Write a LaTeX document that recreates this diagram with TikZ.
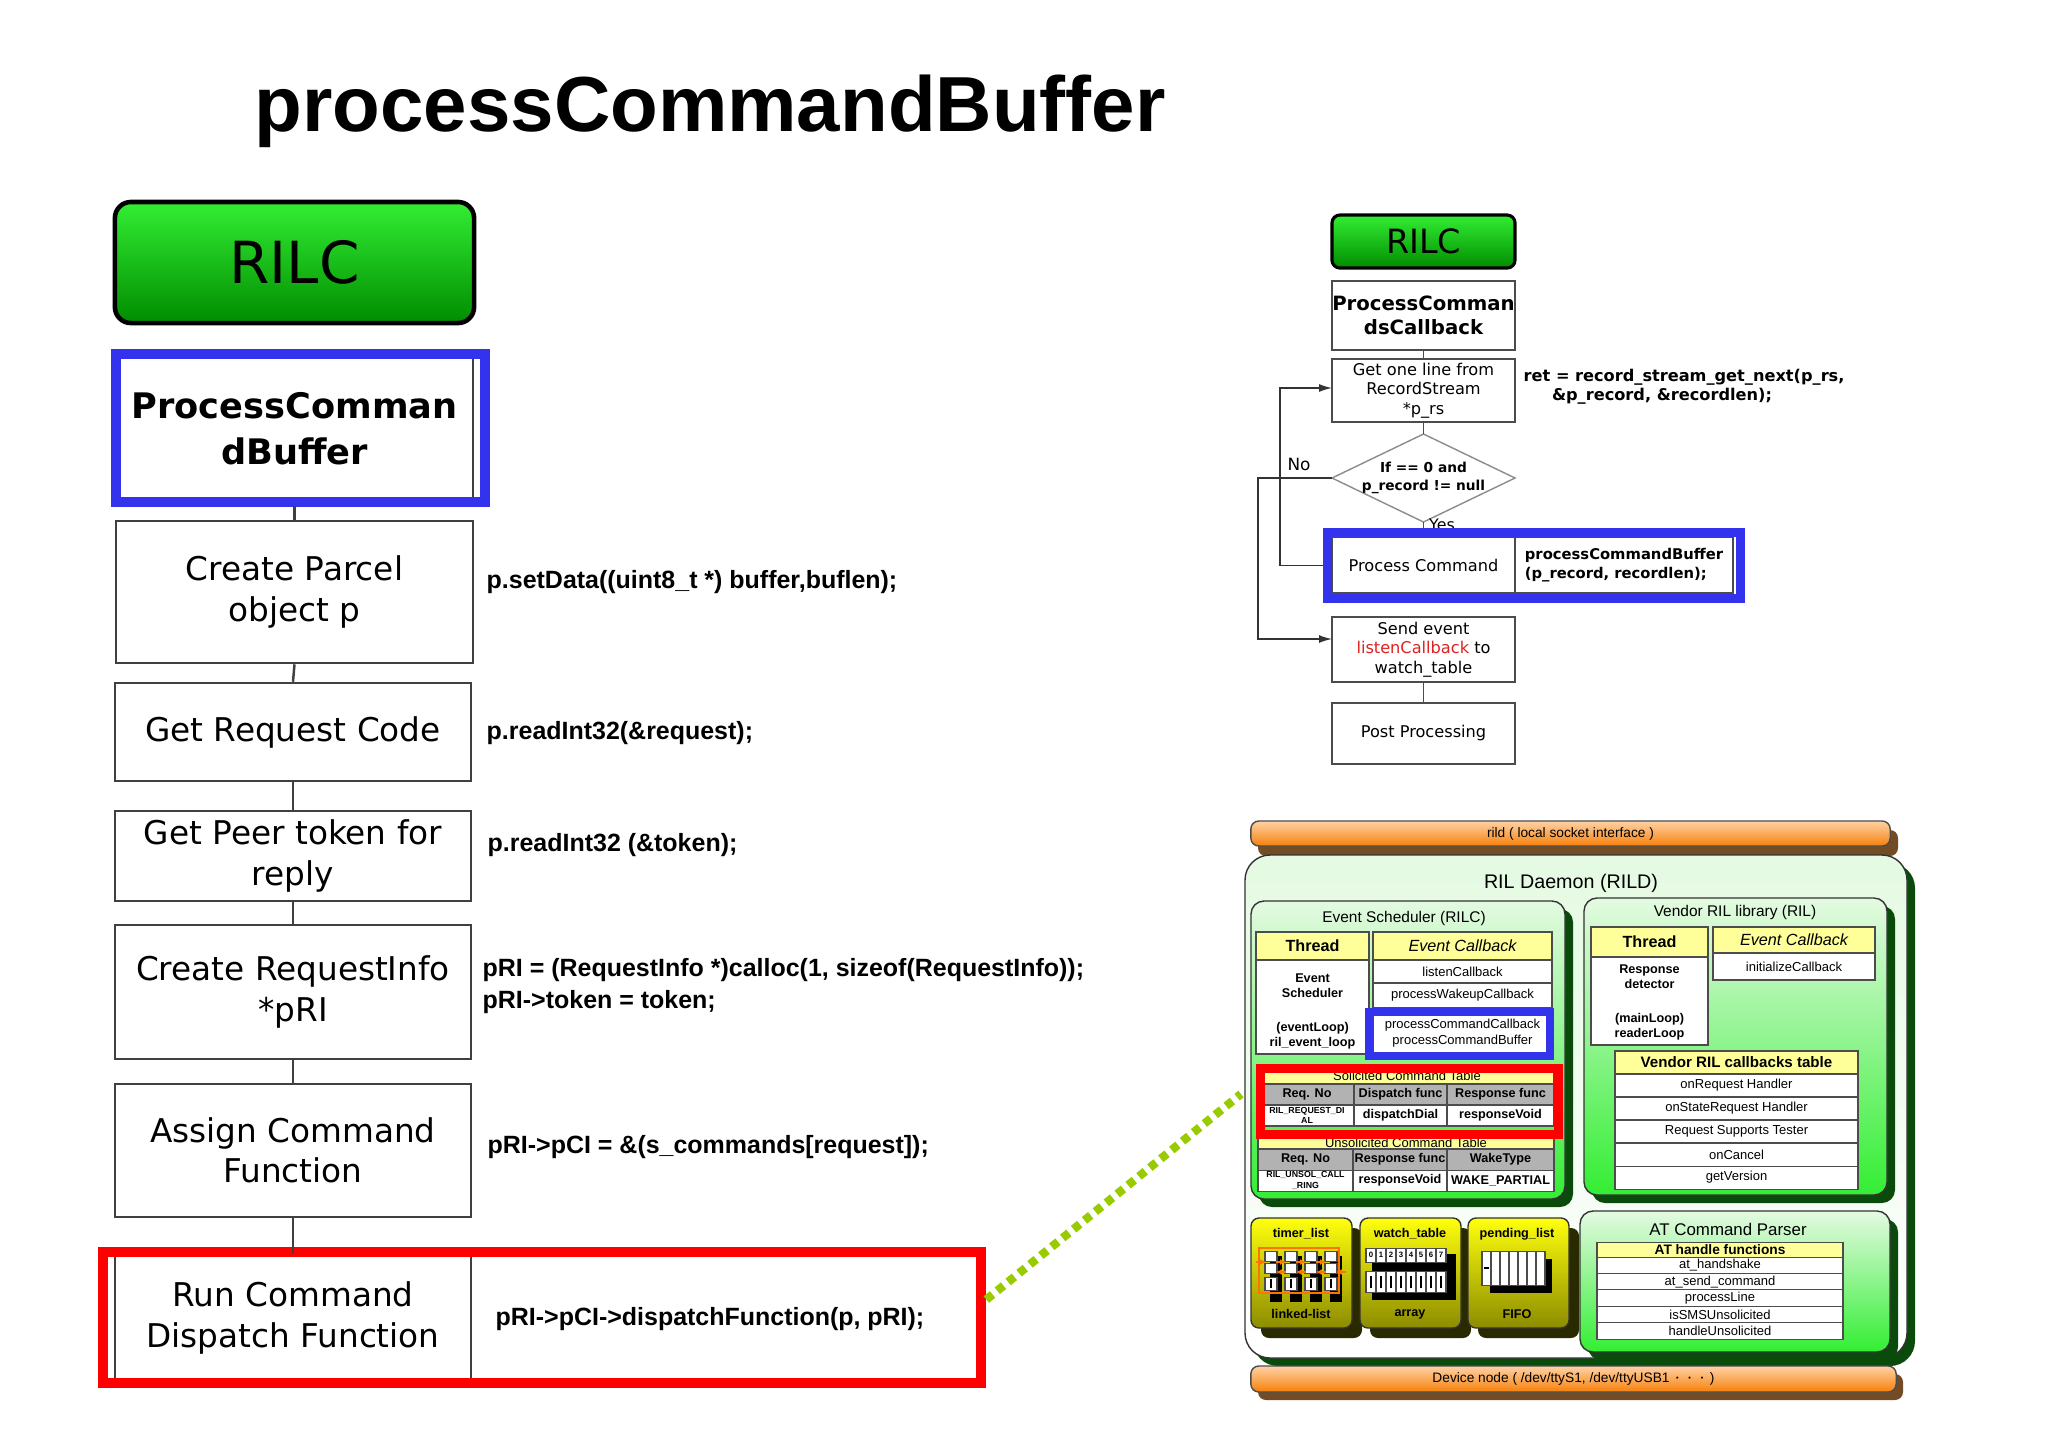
\documentclass[tikz,border=0pt]{standalone}
\usepackage{fontspec}
\setmainfont{DejaVu Sans}
\newfontfamily\lib{Liberation Sans}
\usetikzlibrary{shapes.geometric,arrows.meta}
\newcommand\fz[2]{\fontsize{#1}{#2}\selectfont}
\definecolor{bgreen}{HTML}{33EE33}
\definecolor{dgreen}{HTML}{0A4A0A}
\definecolor{lgreen}{HTML}{E4FAE2}
\definecolor{ylw}{HTML}{FFFF99}
\definecolor{olv}{HTML}{8C8C00}
\definecolor{dolv}{HTML}{2A2A00}
\definecolor{ygreen}{HTML}{99CC00}
\definecolor{bblue}{HTML}{3333EE}
\definecolor{lred}{HTML}{DD2222}
\begin{document}
\begin{tikzpicture}[x=0.01cm,y=-0.01cm,
  lbox/.style={draw=black!75,line width=0.7pt,fill=white,align=center,font=\fz{9.3pt}{11.5pt},inner sep=0pt},
  code/.style={anchor=west,font=\lib\bfseries\fz{7.1pt}{8.9pt},align=left,inner sep=0pt},
  fbox/.style={draw=black!70,line width=0.4pt,fill=white,align=center,font=\fz{4.6pt}{5.5pt},inner sep=0pt},
  tb/.style={font=\lib\fz{3.7pt}{4.4pt},align=center,inner sep=0pt},
  tbb/.style={font=\lib\bfseries\fz{3.6pt}{4.3pt},align=center,inner sep=0pt},
  cell/.style={draw=black!70,line width=0.3pt},
  rbox/.style={draw=black!80,line width=0.4pt,rounded corners=0.13cm,top color=lgreen,bottom color=bgreen},
  shd/.style={fill=dgreen,rounded corners=0.13cm},
  ybox/.style={draw=black!80,line width=0.4pt,rounded corners=0.08cm,top color=yellow!95!white,bottom color=olv},
]
\useasboundingbox (0,0) rectangle (2048,1447);
\fill[white] (0,0) rectangle (2048,1447);

% title
\node[anchor=base west,inner sep=0pt,font=\lib\bfseries\fz{22.2pt}{23pt}] (title) at (254,131) {processCommandBuffer};

% ---------- left column ----------
\node[draw=black,line width=1.3pt,rounded corners=0.16cm,top color=bgreen,bottom color=green!55!black,
  minimum width=3.59cm,minimum height=1.21cm,font=\fz{16.5pt}{17pt}] (rilc) at (294.5,262.5) {RILC};
\node[lbox,minimum width=3.57cm,minimum height=1.43cm,font=\bfseries\fz{10pt}{13pt}] (pcb) at (294.5,428.5) {ProcessComman\\dBuffer};
\draw[bblue,line width=2.8pt] (116,354) rectangle (485,502);
\node[lbox,minimum width=3.57cm,minimum height=1.42cm] (cp) at (294.5,592) {Create Parcel\\object p};
\node[lbox,minimum width=3.56cm,minimum height=0.98cm] (grc) at (293,732) {Get Request Code};
\node[lbox,minimum width=3.56cm,minimum height=0.90cm] (gpt) at (293,856) {Get Peer token for\\reply};
\node[lbox,minimum width=3.56cm,minimum height=1.34cm] (cri) at (293,992) {Create RequestInfo\\*pRI};
\node[lbox,minimum width=3.56cm,minimum height=1.33cm] (acf) at (293,1150.5) {Assign Command\\Function};
\node[lbox,minimum width=3.56cm,minimum height=1.25cm] (rcd) at (293,1318) {Run Command\\Dispatch Function};
\draw[black!75,line width=0.7pt] (471,1256) -- (471,1380);
\node[draw=red,line width=2.9pt,minimum width=8.78cm,minimum height=1.31cm,inner sep=0pt] (redbox) at (542,1317.5) {};
\foreach \a/\b in {cp/grc,grc/gpt,gpt/cri,cri/acf,acf/rcd}
  \draw[black!75,line width=0.7pt] (\a.south) -- (\b.north);
\draw[black!75,line width=0.7pt] (294.5,506) -- (cp.north);

\node[code] (c1) at (486,582) {p.setData((uint8\_t *) buffer,buflen);};
\node[code] (c2) at (486,733) {p.readInt32(\&request);};
\node[code] (c3) at (487,845) {p.readInt32 (\&token);};
\node[code] (c4) at (482,986) {pRI = (RequestInfo *)calloc(1, sizeof(RequestInfo));\\pRI->token = token;};
\node[code] (c5) at (487,1147) {pRI->pCI = \&(s\_commands[request]);};
\node[code] (c6) at (495,1319) {pRI->pCI->dispatchFunction(p, pRI);};

% ---------- top right flowchart ----------
\node[draw=black,line width=0.9pt,rounded corners=0.08cm,top color=bgreen,bottom color=green!55!black,
  minimum width=1.83cm,minimum height=0.53cm,font=\fz{9.5pt}{10pt},inner sep=0pt] (rilc2) at (1423.5,241.5) {RILC};
\node[fbox,minimum width=1.83cm,minimum height=0.69cm,font=\bfseries\fz{5.6pt}{6.7pt}] (pcc) at (1423.5,315.5) {ProcessComman\\dsCallback};
\node[fbox,minimum width=1.83cm,minimum height=0.63cm] (gol) at (1423.5,390.5) {Get one line from\\RecordStream\\*p\_rs};
\draw[black!45,line width=0.4pt,fill=white] (1332,478) -- (1423.5,434) -- (1515,478) -- (1423.5,522) -- cycle;
\node[inner sep=0pt,font=\bfseries\fz{3.9pt}{5.2pt},align=center] (dia) at (1423.5,478) {If == 0 and\\p\_record != null};
\coordinate (diaN) at (1423.5,434);
\coordinate (diaS) at (1423.5,522);
\coordinate (diaW) at (1332,478);
\node[fbox,minimum width=1.83cm,minimum height=0.56cm] (pc) at (1423.5,565) {Process Command};
\node[fbox,minimum width=2.18cm,minimum height=0.56cm,font=\bfseries\fz{4.2pt}{5.6pt},align=left] (pcode) at (1624,565) {processCommandBuffer\\(p\_record, recordlen);};
\draw[black!70,line width=0.4pt] (gol.south) -- (diaN);
\draw[black!70,line width=0.4pt] (pcc.south) -- (gol.north);
\draw[black!70,line width=0.4pt] (diaS) -- (1423.5,530);
\node[font=\fz{4.5pt}{4.5pt},inner sep=0pt] (yes) at (1442,525) {Yes};
\node[draw=bblue,line width=2.7pt,minimum width=4.13cm,minimum height=0.66cm,inner sep=0pt] (bluebox) at (1534,565.5) {};
\node[fbox,minimum width=1.83cm,minimum height=0.65cm] (send) at (1423.5,649.5) {Send event\\{\color{lred}listenCallback} to\\watch\_table};
\node[fbox,minimum width=1.83cm,minimum height=0.61cm] (post) at (1423.5,733.5) {Post Processing};
\draw[black!70,line width=0.4pt] (send.south) -- (post.north);
\draw[black!80,line width=0.4pt,-{Latex[length=0.13cm,width=0.08cm]}] (diaW) -- (1258,478) |- (1332,639);
\draw[black!80,line width=0.4pt,-{Latex[length=0.13cm,width=0.08cm]}] (bluebox.west) -- (1280,565.5) |- (1332,388);
\node[font=\fz{4.8pt}{4.8pt},inner sep=0pt] (no) at (1299,464) {No};
\node[anchor=west,inner sep=0pt,font=\bfseries\fz{4.6pt}{5.6pt}] (ret1) at (1523,377) {ret = record\_stream\_get\_next(p\_rs,};
\node[inner sep=0pt,font=\bfseries\fz{4.6pt}{5.6pt}] (ret2) at (1662,396) {\&p\_record, \&recordlen);};

% ---------- bottom right architecture ----------
\fill[brown!60!black,rounded corners=0.08cm] (1258,830) rectangle (1898,856);
\node[draw=black!70,line width=0.4pt,rounded corners=0.08cm,top color=orange!35,bottom color=orange!85!brown,
  minimum width=6.39cm,minimum height=0.25cm,inner sep=0pt,font=\lib\fz{3.9pt}{4pt}] (rild) at (1570.5,833.5) {rild ( local socket interface )};

\fill[dgreen,rounded corners=0.25cm] (1253,863) rectangle (1915,1366);
\draw[draw=black!80,line width=0.4pt,rounded corners=0.25cm,top color=lgreen,bottom color=white] (1245,855) rectangle (1907,1358);
\node[font=\lib\fz{5.6pt}{6pt},inner sep=0pt] (rild2) at (1571,883) {RIL Daemon (RILD)};

% Event scheduler
\fill[shd] (1259,909) rectangle (1573,1207);
\draw[rbox] (1251,901) rectangle (1565,1199);
\node[font=\lib\fz{4.4pt}{5pt},inner sep=0pt] (est) at (1404,918) {Event Scheduler (RILC)};
\draw[cell,fill=ylw] (1256,932) rectangle (1369,960);
\node[tbb,font=\lib\bfseries\fz{4.6pt}{5pt}] (th1) at (1312.5,946) {Thread};
\draw[cell,fill=white] (1256,960) rectangle (1369,1054);
\node[tbb] (th1a) at (1312.5,986) {Event\\Scheduler};
\node[tbb] (th1b) at (1312.5,1036) {(eventLoop)\\ril\_event\_loop};
\draw[cell,fill=ylw] (1373,932) rectangle (1552,960);
\node[tb,font=\lib\itshape\fz{4.6pt}{5pt}] (ec1) at (1462.5,946) {Event Callback};
\draw[cell,fill=white] (1373,960) rectangle (1552,983);
\node[tb] (lc) at (1462.5,971.5) {listenCallback};
\draw[cell,fill=white] (1373,983) rectangle (1552,1008);
\node[tb] (pwc) at (1462.5,995.5) {processWakeupCallback};
\draw[cell,fill=white] (1373,1008) rectangle (1552,1056);
\node[tb] (pccb) at (1462.5,1033) {processCommandCallback\\processCommandBuffer};
\draw[bblue,line width=2.3pt] (1369,1012) rectangle (1550,1056);
% solicited
\draw[cell,fill=ylw] (1260,1068) rectangle (1554,1084);
\node[tb] (sct) at (1407,1076) {Solicited Command Table};
\draw[cell,fill=gray!60] (1260,1084) rectangle (1554,1105);
\draw[cell,fill=white] (1260,1105) rectangle (1554,1126);
\draw[cell] (1354,1084) -- (1354,1126) (1447,1084) -- (1447,1126);
\node[tbb] (s1) at (1307,1094.5) {Req. No};
\node[tbb] (s2) at (1400.5,1094.5) {Dispatch func};
\node[tbb] (s3) at (1500.5,1094.5) {Response func};
\node[tbb,font=\lib\bfseries\fz{2.5pt}{3pt}] (s4) at (1307,1115.5) {RIL\_REQUEST\_DI\\AL};
\node[tbb] (s5) at (1400.5,1115.5) {dispatchDial};
\node[tbb] (s6) at (1500.5,1115.5) {responseVoid};
% unsolicited
\draw[cell,fill=ylw] (1258,1137) rectangle (1554,1149);
\node[tb] (uct) at (1406,1143) {Unsolicited Command Table};
\draw[cell,fill=gray!60] (1258,1149) rectangle (1554,1170);
\draw[cell,fill=white] (1258,1170) rectangle (1554,1191);
\draw[cell] (1353,1149) -- (1353,1191) (1447,1149) -- (1447,1191);
\node[tbb] (u1) at (1305.5,1159.5) {Req. No};
\node[tbb] (u2) at (1400,1159.5) {Response func};
\node[tbb] (u3) at (1500.5,1159.5) {WakeType};
\node[tbb,font=\lib\bfseries\fz{2.5pt}{3pt}] (u4) at (1305.5,1180.5) {RIL\_UNSOL\_CALL\\\_RING};
\node[tbb] (u5) at (1400,1180.5) {responseVoid};
\node[tbb] (u6) at (1500.5,1180.5) {WAKE\_PARTIAL};
\node[draw=red,line width=2.6pt,minimum width=2.98cm,minimum height=0.66cm,inner sep=0pt] (redsmall) at (1409.5,1101.5) {};

% Vendor RIL
\fill[shd] (1592,906) rectangle (1895,1203);
\draw[rbox] (1584,898) rectangle (1887,1195);
\node[font=\lib\fz{4.4pt}{5pt},inner sep=0pt] (vrl) at (1735,912) {Vendor RIL library (RIL)};
\draw[cell,fill=ylw] (1591,927) rectangle (1708,957);
\node[tbb,font=\lib\bfseries\fz{4.6pt}{5pt}] (th2) at (1649.5,942) {Thread};
\draw[cell,fill=white] (1591,957) rectangle (1708,1045);
\node[tbb] (th2a) at (1649.5,977) {Response\\detector};
\node[tbb] (th2b) at (1649.5,1027) {(mainLoop)\\readerLoop};
\draw[cell,fill=ylw] (1713,927) rectangle (1875,953);
\node[tb,font=\lib\itshape\fz{4.6pt}{5pt}] (ec2) at (1794,940) {Event Callback};
\draw[cell,fill=white] (1713,953) rectangle (1875,980);
\node[tb] (ic) at (1794,966.5) {initializeCallback};
\draw[cell,fill=ylw] (1615,1051) rectangle (1858,1074);
\node[tbb,font=\lib\bfseries\fz{4.3pt}{5pt}] (vct) at (1736.5,1062.5) {Vendor RIL callbacks table};
\foreach \t [count=\i from 0] in {onRequest Handler,onStateRequest Handler,Request Supports Tester,onCancel,getVersion}{
  \draw[cell,fill=white] (1615,1074+23*\i) rectangle (1858,1097+23*\i);
  \node[tb] (vc\i) at (1736.5,1085.5+23*\i) {\t};
}

% small yellow boxes
\foreach \x/\n in {1251/tl,1360/wt,1468/pl}{
  \fill[dolv,rounded corners=0.08cm] (\x+10,1228) rectangle (\x+111,1338);
  \draw[ybox] (\x,1218) rectangle (\x+101,1328);
}
\node[tbb] (tln) at (1301,1234) {timer\_list};
\node[tbb] (tll) at (1301,1314) {linked-list};
\node[tbb] (wtn) at (1410,1234) {watch\_table};
\node[tbb] (wta) at (1410,1314) {array};
\node[tbb] (pln) at (1517,1234) {pending\_list};
\node[tbb] (plf) at (1517,1314) {FIFO};
% timer_list drawing
\foreach \i in {0,1,2,3}{
  \fill[black] (1270+20*\i,1256) rectangle (1282+20*\i,1302);
  \draw[cell,fill=white] (1265+20*\i,1251) rectangle (1277+20*\i,1261);
  \draw[cell,fill=white] (1265+20*\i,1263) rectangle (1277+20*\i,1273);
  \draw[cell,fill=white] (1265+20*\i,1277) rectangle (1277+20*\i,1290);
  \draw[black] (1271+20*\i,1279) -- (1271+20*\i,1288);
}
\draw[orange!90!red,line width=0.8pt] (1259,1248) rectangle (1339,1293);
\foreach \i in {0,1,2,3}{
  \draw[orange!90!red,line width=0.8pt,-{Latex[length=0.06cm,width=0.06cm]}] (1256+20*\i,1262) -- (1266+20*\i,1262);
  \draw[orange!90!red,line width=0.8pt,-{Latex[length=0.06cm,width=0.06cm]}] (1286+20*\i,1272) -- (1276+20*\i,1272);
}
% watch_table drawing
\fill[black] (1372,1254) rectangle (1456,1300);
\foreach \i in {0,...,7}{
  \draw[cell,fill=white] (1366+10*\i,1248) rectangle (1376+10*\i,1262);
  \node[font=\lib\bfseries\fz{2.2pt}{2.2pt},inner sep=0pt] (wn\i) at (1371+10*\i,1255) {\i};
  \draw[cell,fill=white] (1366+10*\i,1271) rectangle (1376+10*\i,1292);
  \draw[black] (1371+10*\i,1276) -- (1371+10*\i,1288);
}
% pending_list drawing
\fill[black] (1490,1259) rectangle (1552,1293);
\draw[cell,fill=white] (1482,1251) rectangle (1545,1285);
\foreach \i in {1,...,6} \draw[cell] (1482+9*\i,1251) -- (1482+9*\i,1285);
\draw[black] (1484,1268) -- (1489,1268);

% AT command parser
\fill[shd] (1588,1219) rectangle (1898,1360);
\draw[rbox] (1580,1211) rectangle (1890,1352);
\node[font=\lib\fz{4.8pt}{5pt},inner sep=0pt] (atp) at (1728,1229) {AT Command Parser};
\draw[cell,fill=ylw] (1597,1242) rectangle (1843,1257);
\node[tbb,font=\lib\bfseries\fz{3.9pt}{4pt}] (ath) at (1720,1249.5) {AT handle functions};
\foreach \t [count=\i from 0] in {at\_handshake,at\_send\_command,processLine,isSMSUnsolicited,handleUnsolicited}{
  \draw[cell,fill=white] (1597,1257+16.4*\i) rectangle (1843,1273.4+16.4*\i);
  \node[tb] (at\i) at (1720,1265.2+16.4*\i) {\t};
}

% device node bar
\fill[brown!60!black,rounded corners=0.08cm] (1258,1374) rectangle (1903,1400);
\node[draw=black!70,line width=0.4pt,rounded corners=0.08cm,top color=orange!35,bottom color=orange!85!brown,
  minimum width=6.45cm,minimum height=0.26cm,inner sep=0pt,font=\lib\fz{3.9pt}{4pt}] (dev) at (1573.5,1379) {Device node ( /dev/ttyS1, /dev/ttyUSB1 $\cdots$ )};

% green dotted connector
\coordinate (tgt) at (1241,1094);
\draw[ygreen,line width=2.4pt,dash pattern=on 0.08cm off 0.06cm] (redbox.east) ++(0,-18) -- (tgt);
\end{tikzpicture}
\end{document}
